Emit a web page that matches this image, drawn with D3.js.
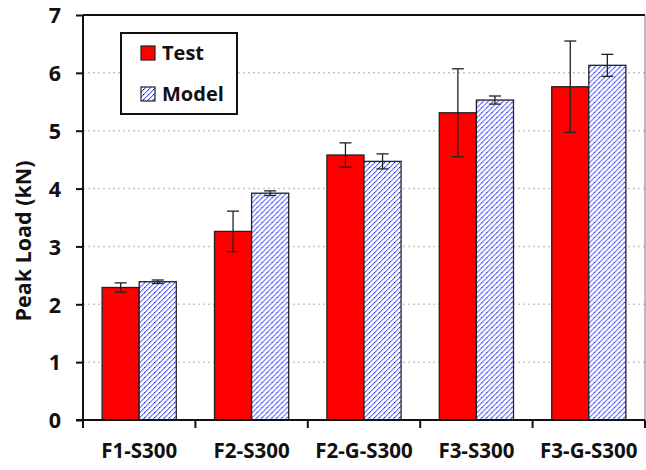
<!DOCTYPE html>
<html>
<head>
<meta charset="utf-8">
<script src="https://cdn.jsdelivr.net/npm/d3@7/dist/d3.min.js"></script>
<style>
  html, body { margin: 0; padding: 0; background: #fff; }
  svg { display: block; }
  text { font-family: "Open Sans", "Noto Sans", sans-serif; font-weight: 700; fill: #111; }
</style>
</head>
<body>
<svg id="chart" width="646" height="470"></svg>
<script>
// Specimen groups
const categories = ["F1-S300", "F2-S300", "F2-G-S300", "F3-S300", "F3-G-S300"];
// Peak load (kN): measured mean and spread
const testValues = [2.29, 3.26, 4.58, 5.31, 5.76];
const testErrors = [0.08, 0.35, 0.21, 0.76, 0.79];
// Peak load (kN): model prediction and spread
const modelValues = [2.39, 3.92, 4.47, 5.53, 6.13];
const modelErrors = [0.03, 0.04, 0.13, 0.07, 0.19];
const seriesNames = ["Test", "Model"];
const yTicks = [0, 1, 2, 3, 4, 5, 6, 7];

const svg = d3.select("#chart");
const margin = { left: 83, right: 1, top: 15, bottom: 50 };
const W = 646, H = 470;
const plotW = W - margin.left - margin.right;
const plotH = H - margin.top - margin.bottom;

// Diagonal hatch used for the model bars: pixel staircase lines with darker dots
const defs = svg.append("defs");
const P = 5;
const pat = defs.append("pattern")
  .attr("id", "hatch")
  .attr("patternUnits", "userSpaceOnUse")
  .attr("width", P).attr("height", P);
pat.append("rect").attr("width", P).attr("height", P).attr("fill", "#fff");
// one pixel per row, stepping right as it goes up
d3.range(P).forEach(i => {
  pat.append("rect")
    .attr("x", i).attr("y", P - 1 - i)
    .attr("width", 1).attr("height", 1)
    .attr("fill", i === 2 ? "#0a14e6" : "#5f6cff");
  pat.append("rect")
    .attr("x", (i + 1) % P).attr("y", P - 1 - i)
    .attr("width", 1).attr("height", 1)
    .attr("fill", "#b4bbff");
});

const g = svg.append("g").attr("transform", `translate(${margin.left},${margin.top})`);

const x0 = d3.scaleBand().domain(categories).range([0, plotW]).paddingInner(0.34).paddingOuter(0.17);
const x1 = d3.scaleBand().domain(seriesNames).range([0, x0.bandwidth()]);
const y = d3.scaleLinear().domain([0, 7]).range([plotH, 0]);

// Dotted gridlines
g.append("g").selectAll("line")
  .data(yTicks.filter(t => t > 0 && t < 7))
  .join("line")
  .attr("x1", 0).attr("x2", plotW)
  .attr("y1", d => y(d)).attr("y2", d => y(d))
  .attr("stroke", "#c8c8c8").attr("stroke-width", 1.5)
  .attr("stroke-dasharray", "2,3");

// Frame: top and right
g.append("line").attr("x1", 0).attr("x2", plotW).attr("y1", 0).attr("y2", 0)
  .attr("stroke", "#111").attr("stroke-width", 2);
g.append("line").attr("x1", plotW).attr("x2", plotW).attr("y1", 0).attr("y2", plotH)
  .attr("stroke", "#777").attr("stroke-width", 1);

const rows = categories.map((c, i) => ({
  cat: c,
  items: [
    { key: "Test", v: testValues[i], e: testErrors[i] },
    { key: "Model", v: modelValues[i], e: modelErrors[i] }
  ]
}));

const groups = g.selectAll(".grp").data(rows).join("g")
  .attr("class", "grp")
  .attr("transform", d => `translate(${x0(d.cat)},0)`);

groups.selectAll("rect").data(d => d.items).join("rect")
  .attr("x", d => x1(d.key))
  .attr("width", x1.bandwidth())
  .attr("y", d => y(d.v))
  .attr("height", d => plotH - y(d.v))
  .attr("fill", d => d.key === "Test" ? "#ff0000" : "url(#hatch)")
  .attr("stroke", "#222").attr("stroke-width", 1.3);

// Error bars
const eb = groups.selectAll(".err").data(d => d.items).join("g").attr("class", "err");
const cx = d => x1(d.key) + x1.bandwidth() / 2;
const cap = 6;
eb.append("line")
  .attr("x1", cx).attr("x2", cx)
  .attr("y1", d => y(d.v + d.e)).attr("y2", d => y(d.v - d.e))
  .attr("stroke", "#222").attr("stroke-width", 1.3);
eb.append("line")
  .attr("x1", d => cx(d) - cap).attr("x2", d => cx(d) + cap)
  .attr("y1", d => y(d.v + d.e)).attr("y2", d => y(d.v + d.e))
  .attr("stroke", "#222").attr("stroke-width", 1.3);
eb.append("line")
  .attr("x1", d => cx(d) - cap).attr("x2", d => cx(d) + cap)
  .attr("y1", d => y(d.v - d.e)).attr("y2", d => y(d.v - d.e))
  .attr("stroke", "#222").attr("stroke-width", 1.3);

// Y axis
const yAxis = g.append("g").call(d3.axisLeft(y).tickValues(yTicks).tickSize(7).tickPadding(15).tickFormat(d3.format("d")));
yAxis.select(".domain").attr("stroke", "#111").attr("stroke-width", 2).attr("d", `M0,${plotH}V0`);
yAxis.selectAll(".tick line").attr("stroke", "#111").attr("stroke-width", 2);
yAxis.selectAll(".tick text").style("font-size", "21.5px").attr("fill", "#111").attr("dy", "0.36em");

// X axis with boundary ticks
const xAxis = g.append("g").attr("transform", `translate(0,${plotH})`);
xAxis.append("line").attr("x1", -7).attr("x2", plotW).attr("y1", 0).attr("y2", 0)
  .attr("stroke", "#111").attr("stroke-width", 2);
const bounds = categories.map(c => x0(c) - x0.step() * x0.paddingInner() / 2).concat([plotW]);
xAxis.selectAll(".bt").data(bounds).join("line")
  .attr("x1", d => d).attr("x2", d => d).attr("y1", 0).attr("y2", 8)
  .attr("stroke", "#111").attr("stroke-width", 2);
xAxis.selectAll(".xl").data(categories).join("text")
  .attr("x", d => x0(d) + x0.bandwidth() / 2)
  .attr("y", 38)
  .attr("text-anchor", "middle")
  .style("font-size", "20.5px")
  .text(d => d);

// Y axis title
svg.append("text")
  .attr("transform", `translate(31,241) rotate(-90)`)
  .attr("text-anchor", "middle")
  .style("font-size", "21.5px")
  .text("Peak Load (kN)");

// Legend
const lg = svg.append("g").attr("transform", "translate(121,33)");
lg.append("rect").attr("width", 116).attr("height", 81)
  .attr("fill", "#fff").attr("stroke", "#111").attr("stroke-width", 2);
const legItems = lg.selectAll(".li").data(seriesNames).join("g")
  .attr("transform", (d, i) => `translate(20,${13 + i * 41})`);
legItems.append("rect").attr("width", 14).attr("height", 14)
  .attr("fill", d => d === "Test" ? "#ff0000" : "url(#hatch)")
  .attr("stroke", "#222").attr("stroke-width", 1.2);
legItems.append("text").attr("x", 21).attr("y", 13.5)
  .style("font-size", "20px").text(d => d);
</script>
</body>
</html>
